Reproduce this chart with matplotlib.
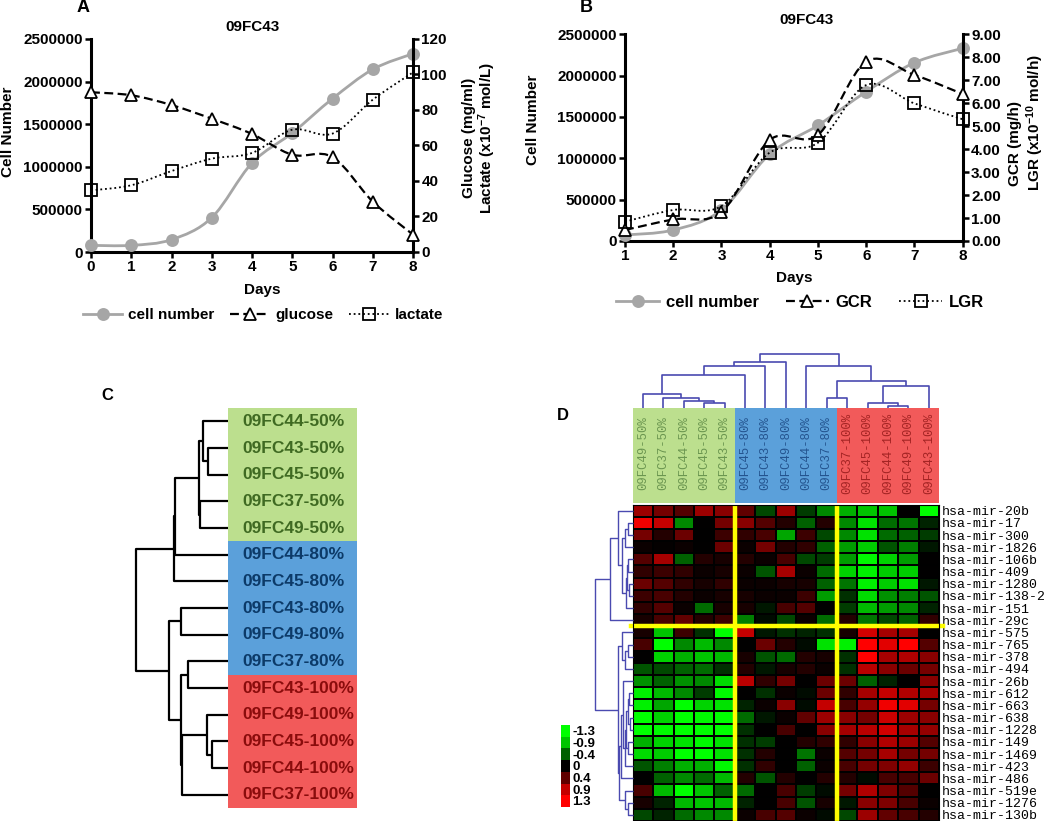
import numpy as np
import matplotlib
matplotlib.use('Agg')
import matplotlib.pyplot as plt
from matplotlib.path import Path
from matplotlib.patches import PathPatch
from matplotlib.lines import Line2D
from matplotlib.colors import LinearSegmentedColormap
from matplotlib.ticker import StrMethodFormatter, MultipleLocator

plt.rcParams['font.family'] = ['Liberation Sans', 'DejaVu Sans']
plt.rcParams['font.weight'] = 'bold'
plt.rcParams['mathtext.fontset'] = 'custom'
plt.rcParams['mathtext.rm'] = 'Liberation Sans:bold'
plt.rcParams['mathtext.bf'] = 'Liberation Sans:bold'
plt.rcParams['mathtext.it'] = 'Liberation Sans:bold'

# ---- panel A / B data ----
days_a = [0, 1, 2, 3, 4, 5, 6, 7, 8]
cells_a = [78000, 78000, 145000, 403000, 1045000, 1397000, 1800000, 2144000, 2328000]
glucose = [90.0, 88.3, 82.8, 75.1, 66.5, 54.8, 53.5, 28.4, 9.8]
lactate = [34.7, 37.6, 45.6, 52.6, 55.8, 68.9, 66.7, 85.8, 101.2]

days_b = [1, 2, 3, 4, 5, 6, 7, 8]
cells_b = [72600, 133000, 375000, 1052000, 1399000, 1806000, 2157000, 2331000]
gcr = [0.48, 0.94, 1.26, 4.40, 4.62, 7.81, 7.23, 6.40]
lgr = [0.84, 1.35, 1.52, 3.85, 4.28, 6.79, 5.99, 5.30]

# ---- panel C data ----
c_labels = ['09FC44-50%', '09FC43-50%', '09FC45-50%', '09FC37-50%', '09FC49-50%',
            '09FC44-80%', '09FC45-80%', '09FC43-80%', '09FC49-80%', '09FC37-80%',
            '09FC43-100%', '09FC49-100%', '09FC45-100%', '09FC44-100%', '09FC37-100%']
c_groups = [0] * 5 + [1] * 5 + [2] * 5
# merges (a, b, distance); ids >= n refer to earlier merges
c_merges = [(1, 2, 20.0), (0, 15, 24.3), (3, 4, 27.7), (16, 17, 28.3),
            (18, 5, 52.7), (19, 6, 53.7), (7, 8, 46.7), (9, 10, 39.3),
            (12, 13, 16.0), (11, 23, 21.0), (24, 14, 45.7), (22, 25, 46.7),
            (21, 26, 58.3), (20, 27, 92.0)]

# ---- panel D data ----
d_cols = ['09FC49-50%', '09FC37-50%', '09FC44-50%', '09FC45-50%', '09FC43-50%',
          '09FC45-80%', '09FC43-80%', '09FC49-80%', '09FC44-80%', '09FC37-80%',
          '09FC37-100%', '09FC45-100%', '09FC44-100%', '09FC49-100%', '09FC43-100%']
d_col_groups = [0] * 5 + [1] * 5 + [2] * 5
d_rows = ['hsa-mir-20b', 'hsa-mir-17', 'hsa-mir-300', 'hsa-mir-1826', 'hsa-mir-106b',
          'hsa-mir-409', 'hsa-mir-1280', 'hsa-mir-138-2', 'hsa-mir-151', 'hsa-mir-29c',
          'hsa-mir-575', 'hsa-mir-765', 'hsa-mir-378', 'hsa-mir-494', 'hsa-mir-26b',
          'hsa-mir-612', 'hsa-mir-663', 'hsa-mir-638', 'hsa-mir-1228', 'hsa-mir-149',
          'hsa-mir-1469', 'hsa-mir-423', 'hsa-mir-486', 'hsa-mir-519e', 'hsa-mir-1276',
          'hsa-mir-130b']
d_values = [
    [0.7, 0.5, 0.35, 0.7, 0.6, 0.4, -0.3, 0.7, -0.25, -0.6, -0.8, -0.9, -0.9, 0.0, -1.4],
    [1.2, 0.9, -0.6, 0.0, 0.5, 0.6, 0.35, 0.15, -0.4, 0.15, -0.6, -1.1, -0.45, -0.5, -0.15],
    [0.5, 0.15, 0.45, 0.0, 0.25, 0.2, 0.3, -0.75, 0.25, -0.3, -0.6, -1.1, -0.45, -0.4, -0.25],
    [0.05, 0.02, 0.05, 0.0, 0.45, 0.05, 0.5, 0.15, 0.2, -0.4, -0.7, -0.95, -0.35, -0.55, -0.1],
    [0.35, 0.75, -0.4, 0.15, 0.1, 0.15, 0.05, 0.3, -0.3, -0.25, -0.7, -1.25, -1.0, -0.7, 0.0],
    [0.2, 0.25, 0.2, 0.05, 0.1, 0.05, -0.35, 0.75, 0.05, -0.45, -1.0, -1.2, -0.95, -0.95, 0.0],
    [0.45, 0.35, 0.2, 0.1, 0.2, 0.05, 0.05, 0.1, 0.1, -0.4, -0.5, -1.2, -0.95, -1.1, -0.1],
    [0.25, 0.3, 0.15, 0.05, 0.1, 0.1, 0.05, 0.05, 0.25, -0.7, -0.2, -1.05, -0.65, -0.55, -0.35],
    [0.2, 0.35, 0.05, -0.45, 0.1, 0.1, -0.1, 0.3, 0.35, 0.0, -0.25, -0.85, -0.7, -0.6, -0.15],
    [0.1, 0.3, 0.4, 0.15, 0.25, -0.55, -0.05, -0.3, 0.05, -0.45, 0.15, -0.5, -0.3, -0.4, 0.2],
    [0.1, -0.9, 0.25, -0.2, -1.3, 0.9, -0.1, -0.2, -0.15, -0.2, 0.1, 1.0, 0.75, 0.75, 0.0],
    [0.3, -1.3, -0.6, -0.85, -0.6, 0.0, 0.45, 0.15, -0.05, -1.1, -1.2, 1.3, 1.1, 1.35, 0.35],
    [0.0, -1.0, -0.8, -0.9, -0.85, 0.1, -0.35, -0.45, 0.15, 0.1, -0.2, 1.35, 0.75, 0.8, 0.6],
    [-0.35, -0.3, -0.4, -0.45, -0.2, 0.15, -0.1, 0.1, 0.15, 0.05, -0.2, 0.85, 0.6, 0.45, 0.5],
    [-0.65, -0.4, -0.65, -0.6, -1.05, 0.85, 0.2, 0.5, 0.0, 0.45, 0.45, -0.4, -0.15, 0.0, 0.6],
    [-1.2, -0.85, -0.6, -0.25, -1.25, 0.0, -0.2, 0.05, -0.05, 0.45, 0.2, 0.75, 0.9, 0.8, 0.75],
    [-1.2, -0.75, -1.3, -1.0, -1.1, -0.15, 0.05, 0.6, -0.05, 0.9, 0.3, 0.65, 1.2, 1.1, 0.5],
    [-1.3, -1.0, -1.3, -1.25, -1.3, -0.45, -0.1, 0.05, 0.4, 0.7, 0.6, 0.5, 0.95, 0.7, 0.6],
    [-1.3, -1.25, -1.3, -1.3, -1.3, -0.2, 0.0, 0.3, 0.0, 0.6, 0.75, 0.85, 1.0, 0.75, 0.65],
    [-0.8, -1.0, -1.1, -1.25, -1.1, -0.2, -0.25, 0.0, 0.15, 0.2, 0.2, 0.6, 0.8, 0.7, 0.35],
    [-1.05, -0.95, -1.3, -1.3, -1.1, -0.2, 0.15, 0.0, -0.5, 0.05, 0.35, 0.5, 0.75, 0.5, 0.5],
    [-0.35, -0.55, -0.8, -0.8, -1.25, -0.2, 0.2, 0.0, -0.4, 0.05, 0.3, 0.5, 0.55, 0.65, 0.25],
    [0.0, -0.4, -0.6, -0.45, -0.85, 0.15, -0.35, 0.15, 0.0, 0.15, 0.15, -0.05, 0.3, 0.3, 0.45],
    [0.3, -0.85, -1.3, -0.9, -0.4, -0.45, 0.0, 0.3, -0.25, -0.05, 0.5, 0.8, 0.55, 0.35, 0.0],
    [0.1, -0.15, -0.85, -0.9, -0.85, -0.15, 0.0, 0.3, -0.35, 0.1, -0.1, 0.6, 0.55, 0.3, 0.05],
    [-0.3, -0.15, -0.45, -0.6, -0.6, 0.05, 0.3, 0.35, 0.05, -0.05, -0.3, 0.7, 0.4, 0.3, 0.15],
]
col_merges = [(3, 4, 4.7), (2, 15, 7.0), (1, 16, 10.0), (0, 17, 13.7), (18, 5, 33.0),
              (19, 6, 41.4), (20, 7, 46.0), (12, 13, 2.0), (11, 22, 4.4), (23, 14, 22.0),
              (9, 10, 10.0), (25, 24, 27.0), (8, 26, 42.0), (21, 27, 53.7)]
row_merges = [(1, 2, 5.0), (26, 3, 7.7), (4, 5, 4.4), (6, 7, 3.7), (28, 29, 5.5),
              (30, 8, 6.5), (27, 31, 11.0), (0, 32, 15.0), (33, 9, 22.7),
              (11, 12, 5.0), (35, 13, 7.7), (10, 36, 11.0),
              (15, 16, 3.7), (17, 18, 3.2), (38, 39, 5.0), (19, 20, 4.4), (40, 41, 6.5),
              (42, 21, 7.7), (14, 43, 10.0), (44, 22, 12.0),
              (24, 25, 5.0), (23, 46, 8.0), (45, 47, 14.0), (37, 48, 15.0), (34, 49, 37.7)]
scale_vals = [-1.3, -0.9, -0.4, 0, 0.4, 0.9, 1.3]
scale_labels = ['-1.3', '-0.9', '-0.4', '0', '0.4', '0.9', '1.3']

box_colors = ['#bcdf8e', '#5ba0da', '#f25a5a']
c_text_colors = ['#3f6a22', '#0c3a68', '#8a0c0c']
d_text_colors = ['#6b9650', '#24548f', '#a42424']
tree_blue = '#4a4ab0'

W, H = 1050, 821


def box(l, t, r, b):
    return [l / W, 1 - b / H, (r - l) / W, (b - t) / H]


def ftext(fig, x, y, s, **kw):
    kw.setdefault('ha', 'center')
    kw.setdefault('va', 'center')
    return fig.text(x / W, 1 - y / H, s, **kw)


def smooth_path(x, y):
    # excel-style smoothed line: cubic bezier through the points
    p = np.column_stack([x, y]).astype(float)
    n = len(p)
    verts, codes = [p[0]], [Path.MOVETO]
    for i in range(n - 1):
        p0, p1 = p[max(i - 1, 0)], p[i]
        p2, p3 = p[i + 1], p[min(i + 2, n - 1)]
        verts += [p1 + (p2 - p0) / 6, p2 - (p3 - p1) / 6, p2]
        codes += [Path.CURVE4] * 3
    return Path(verts, codes)


def draw_series(ax, x, y, color, ls, lw, marker, ms, mfc):
    ax.add_patch(PathPatch(smooth_path(x, y), fill=False, edgecolor=color,
                           linestyle=ls, linewidth=lw, zorder=2))
    ax.plot(x, y, linestyle='none', marker=marker, ms=ms, mfc=mfc, mec=color,
            mew=1.3, zorder=3, clip_on=False)
    return Line2D([], [], color=color, linestyle=ls, linewidth=lw, marker=marker,
                  ms=ms, mfc=mfc, mec=color, mew=1.3)


def style_pair(ax, ax2):
    ax.spines['top'].set_visible(False)
    ax.spines['right'].set_visible(False)
    ax2.spines['top'].set_visible(False)
    ax2.spines['left'].set_visible(False)
    ax2.spines['bottom'].set_visible(False)
    ax.spines['left'].set_linewidth(2.2)
    ax.spines['bottom'].set_linewidth(2.2)
    ax2.spines['right'].set_linewidth(2.2)
    for a in (ax, ax2):
        a.tick_params(width=1.8, length=4, labelsize=11, pad=2)
    ax.yaxis.set_major_formatter(StrMethodFormatter('{x:.0f}'))


def dendrogram(ax, merges, n, orient, color, lw):
    pos = {i: float(i) for i in range(n)}
    hgt = {i: 0.0 for i in range(n)}
    for k, (a, b, h) in enumerate(merges):
        hs = [hgt[a], h, h, hgt[b]]
        ps = [pos[a], pos[a], pos[b], pos[b]]
        if orient == 'left':
            ax.plot(hs, ps, color=color, lw=lw, clip_on=False, solid_capstyle='butt')
        else:
            ax.plot(ps, hs, color=color, lw=lw, clip_on=False, solid_capstyle='butt')
        pos[n + k] = (pos[a] + pos[b]) / 2
        hgt[n + k] = h


fig = plt.figure(figsize=(W / 100, H / 100), dpi=100)

gray = '#a6a6a6'
dashed = (0, (4, 2))
dotted = (0, (1, 1.6))

# ---------------- panel A ----------------
ax_a = fig.add_axes(box(91, 39, 413, 252))
ax_a2 = ax_a.twinx()
h1 = draw_series(ax_a, days_a, cells_a, gray, '-', 2.0, 'o', 8, gray)
h2 = draw_series(ax_a2, days_a, glucose, 'black', dashed, 1.6, '^', 9, 'white')
h3 = draw_series(ax_a2, days_a, lactate, 'black', dotted, 1.3, 's', 8.5, 'none')
ax_a.set_xlim(0, 8)
ax_a.set_ylim(0, 2500000)
ax_a.yaxis.set_major_locator(MultipleLocator(500000))
ax_a.set_xticks(days_a)
ax_a2.set_ylim(0, 120)
ax_a2.yaxis.set_major_locator(MultipleLocator(20))
style_pair(ax_a, ax_a2)
fig.legend([h1, h2, h3], ['cell number', 'glucose', 'lactate'], loc='center',
           bbox_to_anchor=(263 / W, 1 - 315 / H), ncol=3, frameon=False, fontsize=11,
           handlelength=2.6, columnspacing=1.0, handletextpad=0.4, numpoints=1)

ftext(fig, 83, 8, 'A', fontsize=13)
ftext(fig, 252, 27, '09FC43', fontsize=11)
ftext(fig, 262, 290, 'Days', fontsize=11)
ftext(fig, 8, 132, 'Cell Number', fontsize=11, rotation=90)
ftext(fig, 480, 138, 'Glucose (mg/ml)\nLactate (x10$^{-7}$ mol/L)', fontsize=11,
      rotation=90, linespacing=1.0)

# ---------------- panel B ----------------
ax_b = fig.add_axes(box(625, 34.3, 962.7, 241))
ax_b2 = ax_b.twinx()
k1 = draw_series(ax_b, days_b, cells_b, gray, '-', 2.0, 'o', 8, gray)
k2 = draw_series(ax_b2, days_b, gcr, 'black', dashed, 1.6, '^', 9, 'white')
k3 = draw_series(ax_b2, days_b, lgr, 'black', dotted, 1.3, 's', 8.5, 'none')
ax_b.set_xlim(1, 8)
ax_b.set_ylim(0, 2500000)
ax_b.yaxis.set_major_locator(MultipleLocator(500000))
ax_b.set_xticks(days_b)
ax_b2.set_ylim(0, 9)
ax_b2.yaxis.set_major_locator(MultipleLocator(1))
style_pair(ax_b, ax_b2)
ax_b2.yaxis.set_major_formatter(StrMethodFormatter('{x:.2f}'))
fig.legend([k1, k2, k3], ['cell number', 'GCR', 'LGR'], loc='center',
           bbox_to_anchor=(800 / W, 1 - 302 / H), ncol=3, frameon=False, fontsize=12,
           handlelength=2.6, columnspacing=1.6, handletextpad=0.4, numpoints=1)

ftext(fig, 586, 8, 'B', fontsize=13)
ftext(fig, 807, 20, '09FC43', fontsize=11)
ftext(fig, 794, 278, 'Days', fontsize=11)
ftext(fig, 533, 120, 'Cell Number', fontsize=11, rotation=90)
ftext(fig, 1015, 143, 'GCR (mg/h)', fontsize=11, rotation=90)
ftext(fig, 1035, 123, 'LGR (x10$^{-10}$ mol/h)', fontsize=11, rotation=90)

# ---------------- panel C ----------------
ftext(fig, 107, 395, 'C', fontsize=12)
ax_cd = fig.add_axes(box(135.7, 408, 227.7, 808))
dendrogram(ax_cd, c_merges, len(c_labels), 'left', 'black', 1.6)
ax_cd.set_xlim(92, 0)
ax_cd.set_ylim(len(c_labels) - 0.5, -0.5)
ax_cd.axis('off')

ax_cl = fig.add_axes(box(228, 408, 357, 808))
ax_cl.barh(range(len(c_labels)), 1, height=1.0, left=0,
           color=[box_colors[g] for g in c_groups], linewidth=0)
for i, lab in enumerate(c_labels):
    ax_cl.text(0.11, i, lab, color=c_text_colors[c_groups[i]], fontsize=12.5,
               ha='left', va='center', fontweight='bold')
ax_cl.set_xlim(0, 1)
ax_cl.set_ylim(len(c_labels) - 0.5, -0.5)
ax_cl.axis('off')

# ---------------- panel D ----------------
ftext(fig, 563, 415, 'D', fontsize=12)
cmap = LinearSegmentedColormap.from_list(
    'gr', [((v + 1.3) / 2.6, c) for v, c in zip(
        scale_vals, ['#00ff00', '#00c400', '#006000', '#000000', '#600000', '#c40000', '#ff0000'])])

ax_hm = fig.add_axes(box(632.7, 504.6, 939, 821))
vals = np.array(d_values)
ax_hm.pcolormesh(np.arange(len(d_cols) + 1) - 0.5, np.arange(len(d_rows) + 1) - 0.5, vals,
                 cmap=cmap, vmin=-1.3, vmax=1.3, edgecolors='black', linewidth=1.3)
ax_hm.set_xlim(-0.5, len(d_cols) - 0.5)
ax_hm.set_ylim(len(d_rows) - 0.5, -0.5)
ax_hm.axvline(4.5, color='#ffff00', lw=3.2)
ax_hm.axvline(9.5, color='#ffff00', lw=3.2)
ax_hm.plot([-0.6, len(d_cols) - 0.3], [9.5, 9.5], color='#ffff00', lw=3.2, clip_on=False)
ax_hm.set_xticks([])
ax_hm.yaxis.tick_right()
ax_hm.set_yticks(range(len(d_rows)))
ax_hm.set_yticklabels(d_rows, family=['Liberation Mono', 'DejaVu Sans Mono'],
                      fontweight='normal', fontsize=9.5)
ax_hm.tick_params(axis='y', length=0, pad=2)
for s in ax_hm.spines.values():
    s.set_color('black')

ax_hl = fig.add_axes(box(632.7, 407.7, 939, 502.7))
ax_hl.bar(range(len(d_cols)), 1, width=1.0, color=[box_colors[g] for g in d_col_groups],
          linewidth=0)
for i, lab in enumerate(d_cols):
    ax_hl.text(i, 0.52, lab, rotation=90, color=d_text_colors[d_col_groups[i]],
               family=['Liberation Mono', 'DejaVu Sans Mono'], fontweight='normal',
               fontsize=8.8, ha='center', va='center')
ax_hl.set_xlim(-0.5, len(d_cols) - 0.5)
ax_hl.set_ylim(0, 1)
ax_hl.axis('off')

ax_hd = fig.add_axes(box(632.7, 354, 939, 407.7))
dendrogram(ax_hd, col_merges, len(d_cols), 'top', tree_blue, 1.2)
ax_hd.set_xlim(-0.5, len(d_cols) - 0.5)
ax_hd.set_ylim(0, 53.7)
ax_hd.axis('off')

ax_rd = fig.add_axes(box(595, 504.6, 632.7, 821))
dendrogram(ax_rd, row_merges, len(d_rows), 'left', tree_blue, 1.0)
ax_rd.set_xlim(37.7, 0)
ax_rd.set_ylim(len(d_rows) - 0.5, -0.5)
ax_rd.axis('off')

ax_cb = fig.add_axes(box(561, 725, 569.3, 806.7))
ax_cb.imshow(np.array(scale_vals).reshape(-1, 1), cmap=cmap, vmin=-1.3, vmax=1.3,
             aspect='auto', interpolation='nearest')
ax_cb.set_xticks([])
ax_cb.yaxis.tick_right()
ax_cb.set_yticks(range(len(scale_vals)))
ax_cb.set_yticklabels(scale_labels, fontsize=9.5)
ax_cb.tick_params(axis='y', length=0, pad=2)
for s in ax_cb.spines.values():
    s.set_visible(False)

fig.savefig('out.png', dpi=100)
